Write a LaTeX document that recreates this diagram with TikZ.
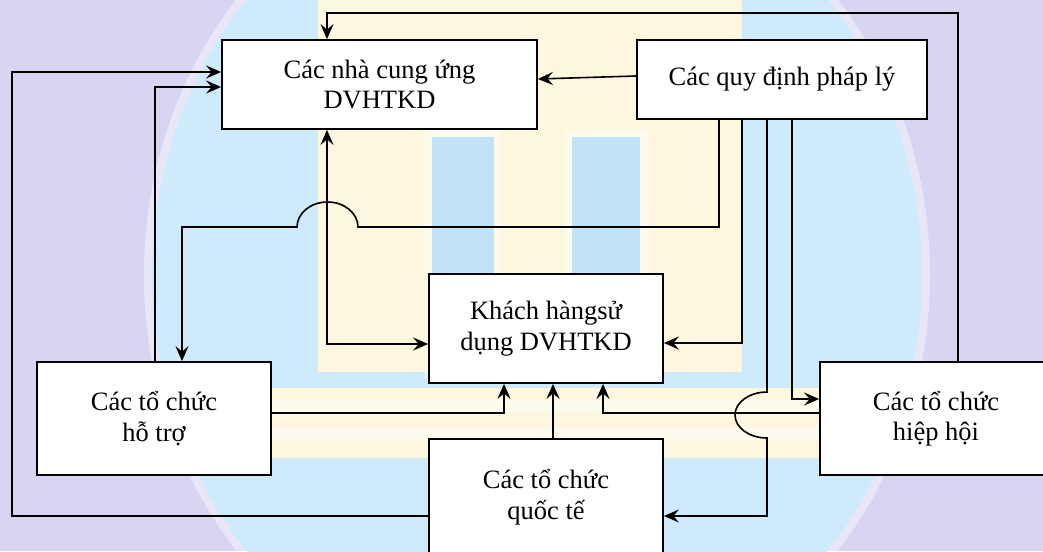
\documentclass[tikz,border=0pt]{standalone}
\usepackage{fontspec}
\setmainfont{Liberation Serif}
\usetikzlibrary{arrows.meta}
\definecolor{lav}{HTML}{D8D5F2}
\definecolor{skyb}{HTML}{CFEAFB}
\definecolor{pillar}{HTML}{C4E2F7}
\definecolor{cream}{HTML}{FCF7DE}
\begin{document}
\begin{tikzpicture}[x=1pt,y=-1pt,
  box/.style={draw, line width=1.8pt, fill=white, rectangle, align=center,
              inner sep=0pt, font=\fontsize{26.5}{30.5}\selectfont},
  link/.style={line width=1.6pt},
  arr/.style={link, -{Stealth[length=15pt,width=13pt,inset=5.5pt]}},
  twoway/.style={link, {Stealth[length=15pt,width=13pt,inset=5.5pt]}-{Stealth[length=15pt,width=13pt,inset=5.5pt]}}]
\useasboundingbox (0,0) rectangle (1043,551);
\clip (0,0) rectangle (1043,551);

% faint background emblem
\fill[lav] (0,0) rectangle (1043,551);
\fill[white, opacity=.45] (537,275) ellipse [x radius=393pt, y radius=428pt];
\fill[skyb] (537,275) ellipse [x radius=385pt, y radius=420pt];
\fill[cream] (318,-5) rectangle (742,372);
\fill[white, opacity=.5] (425,130) rectangle (500,380);
\fill[white, opacity=.5] (565,130) rectangle (647,380);
\fill[pillar] (432,137) rectangle (494,380);
\fill[pillar] (572,137) rectangle (640,380);
\fill[cream] (262,388) rectangle (835,458);
\fill[white, opacity=.5] (262,400) rectangle (835,412);
\fill[white, opacity=.5] (262,428) rectangle (835,440);

% boxes
\node[box, minimum width=315pt, minimum height=89pt]  (A)  at (379.5,84.5) {Các nhà cung ứng\\DVHTKD};
\node[box, minimum width=290pt, minimum height=79pt]  (B)  at (782,79.5)   {Các quy định pháp lý};
\node[box, minimum width=234pt, minimum height=109pt] (KH) at (546,328.5)  {Khách hàngsử\\dụng DVHTKD};
\node[box, minimum width=234pt, minimum height=113pt] (HT) at (154,418.5)  {Các tổ chức\\hỗ trợ};
\node[box, minimum width=232pt, minimum height=113pt] (HH) at (936,418.5)  {Các tổ chức\\hiệp hội};
\node[box, minimum width=234pt, minimum height=116pt] (QT) at (546,497)    {Các tổ chức\\quốc tế};

% links into the suppliers box
\draw[arr] (B.west |- 0,76) -- (A.east |- 0,79);
\draw[twoway] (A.south -| 327,0) |- (KH.west |- 0,344);
\draw[arr] (HT.north -| 155,0) |- (A.west |- 0,87);
\draw[arr] (QT.west |- 0,516) -| (12,72) -- (A.west |- 0,72);
\draw[arr] (HH.north -| 958,0) |- (327,13) -- (A.north -| 327,0);

% regulations feeding the other boxes
\draw[arr] (B.south -| 719,0) |- (358,227)
  arc[start angle=0, end angle=180, x radius=30.5pt, y radius=25pt]
  -- (182,227) -- (HT.north -| 182,0);
\draw[arr] (B.south -| 742,0) |- (KH.east |- 0,343);
\draw[arr] (B.south -| 767,0) -- (767,392)
  arc[start angle=90, end angle=270, x radius=32pt, y radius=23pt]
  -- (767,516) -- (QT.east |- 0,516);
\draw[arr] (B.south -| 792,0) |- (HH.west |- 0,399);

% links into the customers box
\draw[arr] (HH.west |- 0,413) -| (KH.south -| 603,0);
\draw[arr] (QT.north -| 553,0) -- (KH.south -| 553,0);
\draw[arr] (HT.east |- 0,413) -| (KH.south -| 504,0);
\end{tikzpicture}
\end{document}
